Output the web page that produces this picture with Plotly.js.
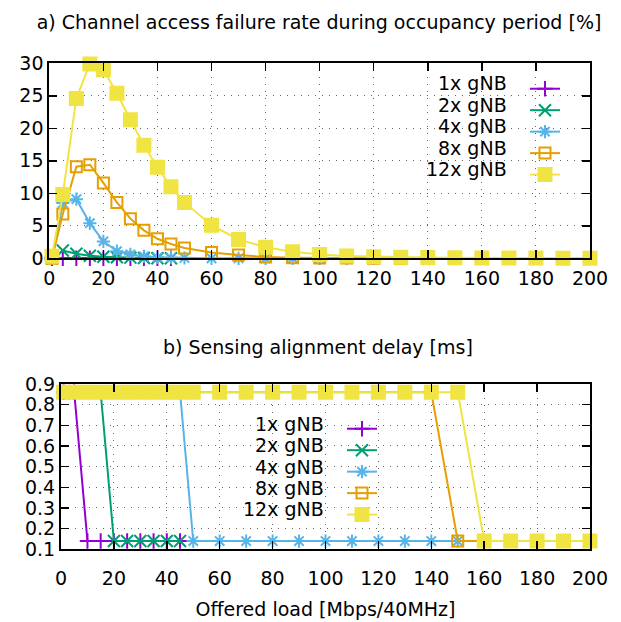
<!DOCTYPE html>
<html>
<head>
<meta charset="utf-8">
<script src="https://cdn.plot.ly/plotly-3.0.1.min.js"></script>
<style>html,body{margin:0;padding:0;background:#fff}#chart{width:621px;height:622px}</style>
</head>
<body>
<div id="chart"></div>
<script>
// ---- data ----
const seriesNames = ["1x gNB", "2x gNB", "4x gNB", "8x gNB", "12x gNB"];
const loadShort = [1, 5, 10, 15, 20, 25, 30, 35, 40, 45];
const loadMid = [1, 5, 10, 15, 20, 25, 30, 35, 40, 45, 50, 60, 70, 80, 90, 100, 110, 120, 130, 140, 150];
const loadFull = [1, 5, 10, 15, 20, 25, 30, 35, 40, 45, 50, 60, 70, 80, 90, 100, 110, 120, 130, 140, 150, 160, 170, 180, 190, 200];

// a) channel access failure rate [%]
const failure1x = [0, 0, 0, 0, 0, 0, 0, 0, 0, 0];
const failure2x = [0, 1.2, 0.7, 0.4, 0.25, 0.15, 0.1, 0.05, 0, 0];
const failure4x = [0, 8.5, 9.1, 5.4, 2.6, 1.1, 0.6, 0.3, 0.15, 0.1, 0.05, 0, 0, 0, 0, 0, 0, 0, 0, 0, 0];
const failure8x = [0, 6.8, 14.1, 14.4, 11.6, 8.6, 6.1, 4.3, 3.0, 2.2, 1.6, 0.9, 0.5, 0.2, 0.1, 0.05, 0.03, 0.02, 0.01, 0.01, 0, 0, 0, 0, 0, 0];
const failure12x = [0.3, 9.8, 24.6, 29.9, 29.0, 25.4, 21.3, 17.4, 14.0, 11.0, 8.6, 5.1, 2.9, 1.7, 1.0, 0.6, 0.35, 0.25, 0.15, 0.12, 0.08, 0.05, 0.04, 0.03, 0.02, 0.02];

// b) sensing alignment delay [ms]
const delay1x = [0.86, 0.86, 0.14, 0.14, 0.14, 0.14, 0.14, 0.14, 0.14, 0.14];
const delay2x = [0.86, 0.86, 0.86, 0.86, 0.14, 0.14, 0.14, 0.14, 0.14, 0.14];
const delay4x = [0.86, 0.86, 0.86, 0.86, 0.86, 0.86, 0.86, 0.86, 0.86, 0.86, 0.14, 0.14, 0.14, 0.14, 0.14, 0.14, 0.14, 0.14, 0.14, 0.14, 0.14];
const delay8x = [0.86, 0.86, 0.86, 0.86, 0.86, 0.86, 0.86, 0.86, 0.86, 0.86, 0.86, 0.86, 0.86, 0.86, 0.86, 0.86, 0.86, 0.86, 0.86, 0.86, 0.14, 0.14, 0.14, 0.14, 0.14, 0.14];
const delay12x = [0.86, 0.86, 0.86, 0.86, 0.86, 0.86, 0.86, 0.86, 0.86, 0.86, 0.86, 0.86, 0.86, 0.86, 0.86, 0.86, 0.86, 0.86, 0.86, 0.86, 0.86, 0.14, 0.14, 0.14, 0.14, 0.14];

const xTicks = [0, 20, 40, 60, 80, 100, 120, 140, 160, 180, 200];

// ---- styles ----
const colors = ["#9400d3", "#009e73", "#56b4e9", "#e69f00", "#f0e442"];
const symbols = ["cross-thin-open", "x-thin-open", "asterisk-open", "square-open", "square"];
const msizes = [11, 12, 11, 11, 13];
const FONT = "DejaVu Sans, sans-serif";

function mk(x, y, i, xa, ya, leg) {
  return {
    type: "scatter", mode: "lines+markers", x: x, y: y,
    name: "", xaxis: xa, yaxis: ya, legend: leg,
    cliponaxis: false,
    line: {color: colors[i], width: 2},
    marker: {symbol: symbols[i], size: msizes[i], color: colors[i],
             line: {color: colors[i], width: 2}},
    hoverinfo: "x+y"
  };
}

const traces = [
  mk(loadShort, failure1x, 0, "x", "y", "legend"),
  mk(loadShort, failure2x, 1, "x", "y", "legend"),
  mk(loadMid, failure4x, 2, "x", "y", "legend"),
  mk(loadFull, failure8x, 3, "x", "y", "legend"),
  mk(loadFull, failure12x, 4, "x", "y", "legend"),
  mk(loadShort, delay1x, 0, "x2", "y2", "legend2"),
  mk(loadShort, delay2x, 1, "x2", "y2", "legend2"),
  mk(loadMid, delay4x, 2, "x2", "y2", "legend2"),
  mk(loadFull, delay8x, 3, "x2", "y2", "legend2"),
  mk(loadFull, delay12x, 4, "x2", "y2", "legend2")
];

const W = 621, H = 622;
const px = v => v / W, py = v => 1 - v / H;

const axisCommon = {
  showline: true, linecolor: "#000", linewidth: 2, mirror: "ticks",
  ticks: "inside", ticklen: 8, tickwidth: 1.5, tickcolor: "#000",
  showgrid: true, gridcolor: "#666", gridwidth: 1, griddash: "1px,6px",
  zeroline: false, tickfont: {family: FONT, size: 19, color: "#000"},
  fixedrange: true
};

const layout = {
  width: W, height: H,
  margin: {l: 0, r: 0, t: 0, b: 0},
  paper_bgcolor: "#fff", plot_bgcolor: "#fff",
  font: {family: FONT, color: "#000"},
  title: {text: "a) Channel access failure rate during occupancy period [%]",
          font: {family: FONT, size: 19, color: "#000"},
          x: px(319), xanchor: "center", y: py(22), yanchor: "middle", xref: "paper", yref: "paper"},
  xaxis: Object.assign({}, axisCommon, {domain: [px(49.3), px(590)], anchor: "y", range: [0, 200],
          tickmode: "array", tickvals: xTicks, ticktext: xTicks.map(String), ticklabelstandoff: 2}),
  yaxis: Object.assign({}, axisCommon, {domain: [py(258.3), py(63.3)], anchor: "x", range: [0, 30], dtick: 5, tick0: 0}),
  xaxis2: Object.assign({}, axisCommon, {domain: [px(61), px(590)], anchor: "y2", range: [0, 200],
          tickmode: "array", tickvals: xTicks, ticktext: xTicks.map(String), ticklabelstandoff: 11,
          title: {text: "Offered load [Mbps/40MHz]", font: {family: FONT, size: 19, color: "#000"}, standoff: 15}}),
  yaxis2: Object.assign({}, axisCommon, {domain: [py(549.3), py(384)], anchor: "x2", range: [0.1, 0.9], dtick: 0.1, tick0: 0.1,
          tickformat: ".1f"}),
  legend: {x: px(525), y: py(73), xanchor: "left", yanchor: "top", bgcolor: "rgba(0,0,0,0)",
           borderwidth: 0, font: {family: FONT, size: 14.2}, itemwidth: 30, traceorder: "normal"},
  legend2: {x: px(342), y: py(413), xanchor: "left", yanchor: "top", bgcolor: "rgba(0,0,0,0)",
           borderwidth: 0, font: {family: FONT, size: 14.2}, itemwidth: 30, traceorder: "normal"},
  shapes: [
    {type: "rect", xref: "paper", yref: "paper", x0: px(440), x1: px(575), y0: py(178), y1: py(73),
     fillcolor: "#fff", line: {width: 0}, layer: "between"},
    {type: "rect", xref: "paper", yref: "paper", x0: px(253), x1: px(393), y0: py(523), y1: py(407),
     fillcolor: "#fff", line: {width: 0}, layer: "between"}
  ],
  annotations: [
    {text: "b) Sensing alignment delay [ms]", xref: "paper", yref: "paper", x: px(318), y: py(347),
     xanchor: "center", yanchor: "middle", showarrow: false, font: {family: FONT, size: 19, color: "#000"}}
  ],
  showlegend: true
};

const topRows = [83.3, 104.8, 126.3, 147.8, 169.3];
const botRows = [424, 445.3, 466.7, 488, 509.3];
seriesNames.forEach((n, i) => {
  layout.annotations.push({text: n, xref: "paper", yref: "paper", x: px(509), y: py(topRows[i]),
    xanchor: "right", yanchor: "middle", showarrow: false, font: {family: FONT, size: 19, color: "#000"}});
  layout.annotations.push({text: n, xref: "paper", yref: "paper", x: px(326), y: py(botRows[i]),
    xanchor: "right", yanchor: "middle", showarrow: false, font: {family: FONT, size: 19, color: "#000"}});
});

Plotly.newPlot("chart", traces, layout, {displayModeBar: false, staticPlot: true});
</script>
</body>
</html>
